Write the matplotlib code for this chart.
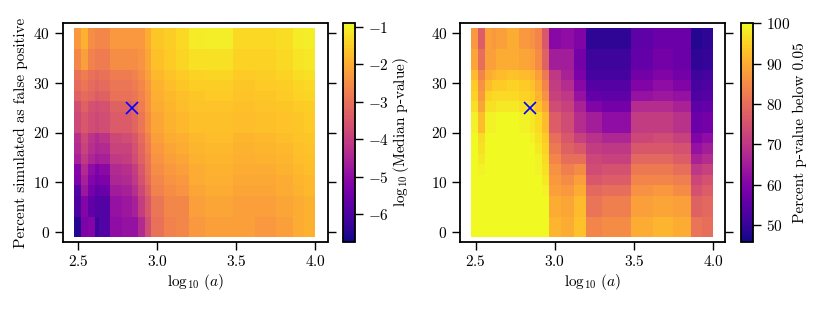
import numpy as np
import matplotlib
matplotlib.use('Agg')
import matplotlib.pyplot as plt

plt.rcParams['font.family'] = ['cmr10', 'DejaVu Sans']
plt.rcParams['mathtext.fontset'] = 'cm'
plt.rcParams['axes.formatter.use_mathtext'] = True
plt.rcParams['axes.unicode_minus'] = True
plt.rcParams['font.size'] = 11

# cell edges
x_edges = [2.47, 2.515, 2.56, 2.605, 2.63, 2.70, 2.775, 2.84, 2.875, 2.92, 2.96,
           3.04, 3.12, 3.2, 3.3, 3.48, 3.62, 3.75, 3.86, 3.93, 4.0]
y_edges = [-1, 3.1, 7.3, 9.5, 11.5, 13.6, 15.7, 17.8, 20, 24.1, 26.3, 28.3, 30.5, 32.6, 36.7, 41]

# log10 median p-value, rows from bottom to top
median_p = [
    [-6.5, -5.3, -5.2, -6.2, -5.9, -5.0, -4.9, -4.9, -4.4, -3.7, -3.0, -2.7, -2.6, -2.3, -2.2, -2.2, -2.3, -2.2, -2.0, -1.9],
    [-6.0, -5.2, -5.7, -5.9, -5.9, -4.9, -4.8, -4.6, -4.0, -3.5, -2.9, -2.6, -2.6, -2.2, -2.1, -2.2, -2.2, -2.1, -2.0, -1.9],
    [-5.9, -4.8, -5.4, -5.7, -5.6, -4.7, -4.6, -4.3, -3.8, -3.3, -2.7, -2.5, -2.4, -2.1, -2.0, -2.1, -2.1, -2.0, -1.9, -1.8],
    [-5.3, -4.6, -5.2, -5.4, -5.3, -4.5, -4.4, -4.1, -3.6, -3.1, -2.6, -2.4, -2.3, -2.0, -1.95, -2.05, -2.05, -2.0, -1.85, -1.8],
    [-5.2, -4.4, -5.0, -5.3, -5.1, -4.4, -4.3, -4.0, -3.5, -3.0, -2.5, -2.3, -2.2, -2.0, -1.9, -2.0, -2.0, -1.9, -1.8, -1.75],
    [-4.6, -4.1, -4.5, -4.7, -4.6, -4.1, -4.0, -3.7, -3.3, -2.9, -2.4, -2.2, -2.1, -1.9, -1.85, -1.95, -1.9, -1.85, -1.75, -1.7],
    [-4.4, -3.9, -4.3, -4.5, -4.4, -3.9, -3.9, -3.6, -3.2, -2.8, -2.3, -2.1, -2.0, -1.85, -1.8, -1.9, -1.85, -1.8, -1.7, -1.65],
    [-4.3, -3.8, -4.2, -4.4, -4.2, -3.8, -3.7, -3.5, -3.1, -2.7, -2.2, -2.0, -1.95, -1.8, -1.75, -1.85, -1.8, -1.75, -1.65, -1.6],
    [-3.8, -3.5, -3.7, -3.8, -3.7, -3.4, -3.4, -3.2, -2.9, -2.5, -2.1, -1.9, -1.8, -1.7, -1.7, -1.75, -1.7, -1.65, -1.6, -1.55],
    [-3.7, -3.3, -3.6, -3.7, -3.6, -3.3, -3.3, -3.1, -2.8, -2.4, -2.0, -1.85, -1.75, -1.65, -1.65, -1.7, -1.65, -1.6, -1.55, -1.5],
    [-3.3, -3.1, -3.2, -3.4, -3.3, -3.0, -3.0, -2.9, -2.7, -2.4, -1.95, -1.8, -1.7, -1.6, -1.55, -1.65, -1.6, -1.55, -1.45, -1.4],
    [-3.1, -2.9, -3.1, -3.2, -3.1, -2.9, -2.9, -2.8, -2.6, -2.3, -1.9, -1.75, -1.6, -1.5, -1.5, -1.6, -1.55, -1.5, -1.4, -1.35],
    [-3.0, -2.8, -3.0, -3.1, -3.0, -2.8, -2.8, -2.7, -2.5, -2.2, -1.8, -1.65, -1.55, -1.45, -1.4, -1.55, -1.5, -1.45, -1.3, -1.25],
    [-2.6, -2.2, -2.7, -2.8, -2.8, -2.5, -2.5, -2.5, -2.4, -2.1, -1.7, -1.55, -1.4, -1.25, -1.25, -1.45, -1.45, -1.35, -1.2, -1.15],
    [-2.3, -1.9, -2.5, -2.6, -2.6, -2.3, -2.3, -2.3, -2.3, -2.0, -1.6, -1.5, -1.35, -1.1, -1.05, -1.35, -1.35, -1.3, -1.1, -1.05],
]

# percent of p-values below 0.05, rows from bottom to top
percent_below = [
    [100, 100, 100, 100, 100, 100, 100, 100, 100, 100, 91, 90, 93, 84, 85, 90, 91, 90, 81, 80],
    [100, 100, 100, 100, 100, 100, 100, 100, 100, 100, 90, 89, 92, 81, 83, 88, 89, 88, 78, 79],
    [100, 100, 100, 100, 100, 100, 100, 100, 100, 99, 88, 87, 90, 79, 80, 86, 87, 85, 75, 77],
    [100, 100, 100, 100, 100, 100, 100, 100, 100, 98, 87, 85, 88, 76, 77, 84, 84, 83, 73, 75],
    [100, 99, 100, 100, 100, 100, 100, 100, 99, 97, 86, 83, 85, 74, 75, 82, 82, 80, 70, 72],
    [100, 98, 100, 100, 100, 100, 100, 100, 99, 96, 84, 80, 80, 73, 72, 79, 79, 77, 66, 68],
    [100, 97, 100, 100, 100, 100, 100, 100, 98, 95, 82, 78, 76, 71, 70, 76, 76, 75, 63, 65],
    [100, 96, 100, 100, 100, 100, 100, 99, 97, 94, 80, 76, 72, 69, 67, 73, 74, 72, 60, 62],
    [99, 92, 99, 99, 100, 100, 99, 98, 96, 92, 77, 74, 68, 65, 62, 71, 71, 69, 57, 58],
    [97, 89, 97, 97, 98, 98, 97, 96, 93, 89, 74, 72, 66, 60, 58, 68, 68, 66, 55, 56],
    [95, 87, 95, 96, 96, 96, 95, 94, 91, 86, 72, 70, 63, 56, 55, 63, 64, 63, 53, 54],
    [94, 86, 92, 94, 94, 95, 94, 93, 90, 84, 71, 68, 61, 54, 54, 60, 62, 60, 52, 53],
    [92, 84, 90, 91, 92, 93, 92, 91, 88, 82, 70, 66, 59, 52, 52, 58, 60, 58, 51, 52],
    [89, 80, 88, 88, 90, 90, 89, 88, 85, 78, 65, 65, 58, 51, 51, 56, 58, 57, 49, 50],
    [87, 77, 88, 87, 88, 90, 87, 86, 84, 76, 61, 62, 60, 49, 49, 55, 57, 57, 48, 49],
]

marker_x = 2.84
marker_y = 25

W, H = 830.0, 311.0


def px_axes(fig, x0, x1, top, bottom):
    return fig.add_axes([x0 / W, 1 - bottom / H, (x1 - x0) / W, (bottom - top) / H])


def draw_panel(fig, x0, cb_x0, values, vmin, vmax, cb_label, cb_ticks):
    ax = px_axes(fig, x0, x0 + 265, 23.3, 241.7)
    mesh = ax.pcolormesh(x_edges, y_edges, np.array(values), cmap='plasma', vmin=vmin, vmax=vmax)
    ax.plot(marker_x, marker_y, 'x', color='blue', ms=8.5, mew=1.2)
    ax.set_xlim(2.4, 4.076)
    ax.set_ylim(-1.9, 41.9)
    ax.set_xticks([2.5, 3.0, 3.5, 4.0])
    ax.set_yticks([0, 10, 20, 30, 40])
    ax.set_xlabel(r'$\log_{10}\,(a)$', labelpad=2)
    ax.tick_params(axis='both', length=6, width=1, left=True, right=True, pad=3)
    for s in ax.spines.values():
        s.set_linewidth(1.3)
    cax = px_axes(fig, cb_x0, cb_x0 + 12, 23.3, 241.7)
    cb = fig.colorbar(mesh, cax=cax, ticks=cb_ticks)
    cb.set_label(cb_label, labelpad=2)
    cb.ax.tick_params(length=6, width=1, pad=3)
    cb.outline.set_linewidth(1.3)
    return ax


fig = plt.figure(figsize=(W / 100, H / 100), dpi=100)
ax1 = draw_panel(fig, 62.5, 343, median_p, -6.74, -0.91,
                 r'$\log_{10}$(Median p-value)', [-6, -5, -4, -3, -2, -1])
ax1.set_ylabel('Percent simulated as false positive', labelpad=4)
ax2 = draw_panel(fig, 460, 741, percent_below, 45.9, 100,
                 'Percent p-value below 0.05', [50, 60, 70, 80, 90, 100])

fig.savefig('out.png', dpi=100)
